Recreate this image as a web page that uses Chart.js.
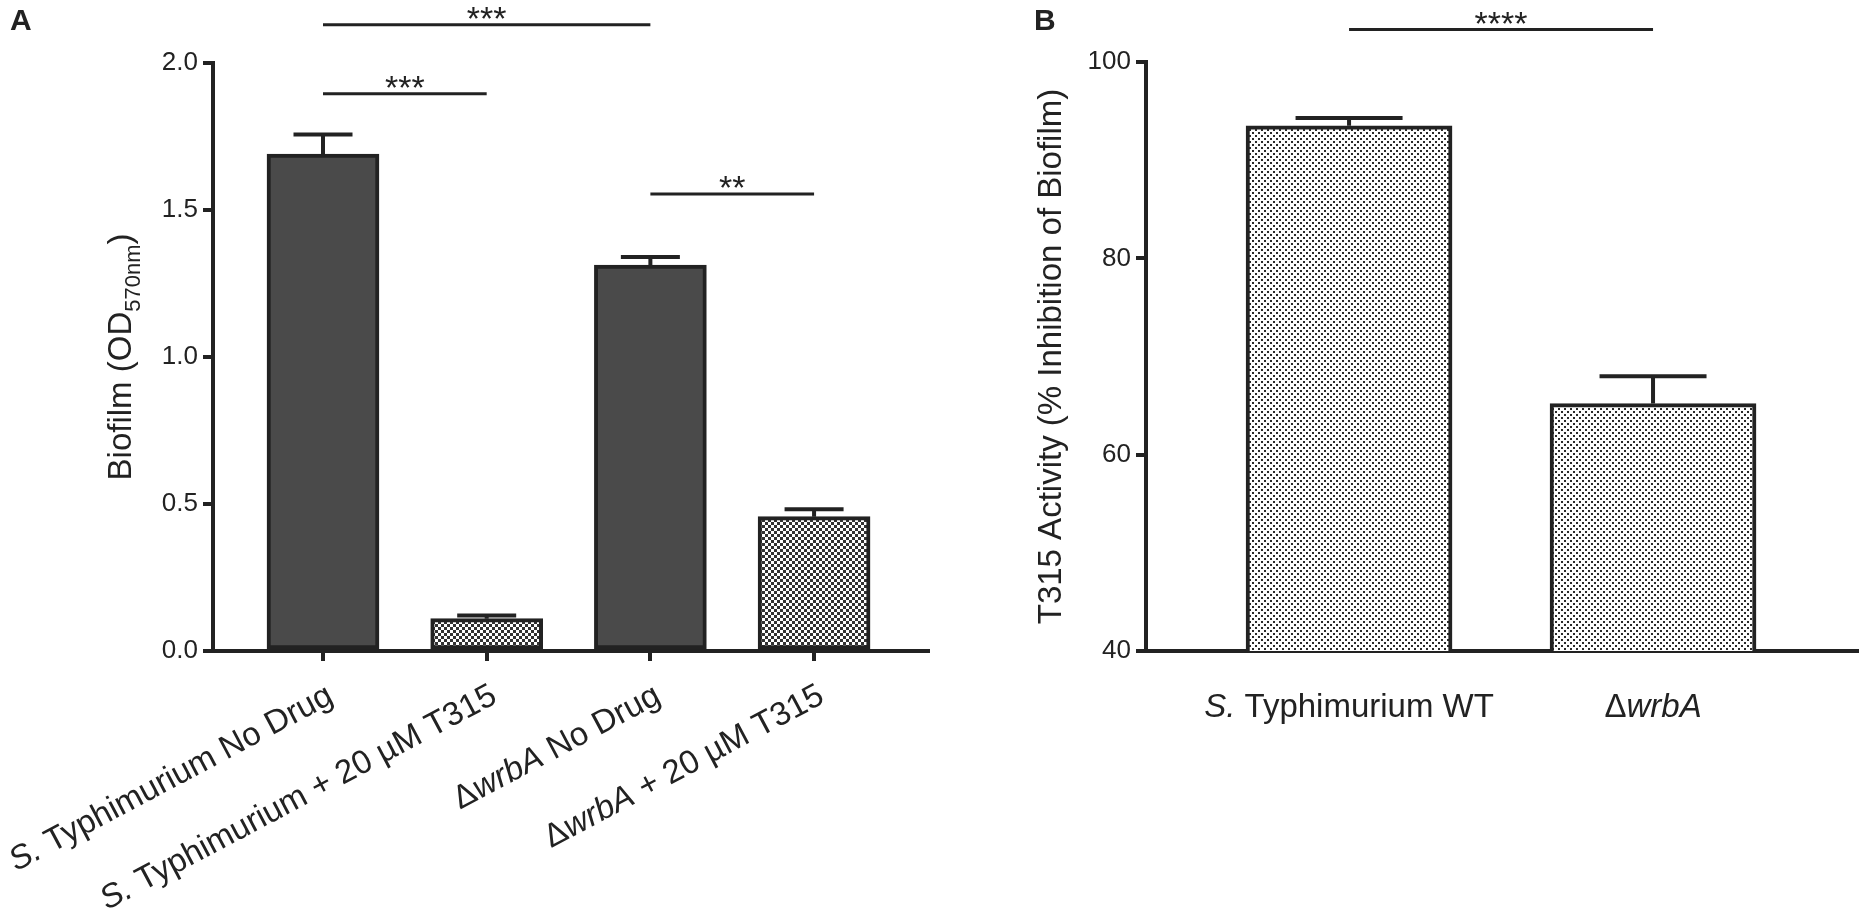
<!DOCTYPE html>
<html>
<head>
<meta charset="utf-8">
<script src="https://cdn.jsdelivr.net/npm/chart.js@4.4.1/dist/chart.umd.min.js"></script>
<style>
  html, body { margin: 0; padding: 0; background: #fff; }
  canvas { position: absolute; top: 0; }
</style>
</head>
<body>
<canvas id="chartA" width="1000" height="923" style="left:0"></canvas>
<canvas id="chartB" width="860" height="923" style="left:1000px"></canvas>
<script>
// panel A - biofilm
const categoriesA = ["S. Typhimurium No Drug", "S. Typhimurium + 20 µM T315", "ΔwrbA No Drug", "ΔwrbA + 20 µM T315"];
const biofilmMean = [1.69, 0.11, 1.313, 0.457];
const biofilmSem = [0.067, 0.011, 0.027, 0.025];
const yTicksA = [0, 0.5, 1.0, 1.5, 2.0];
// [from bar, to bar, level, stars]
const signifA = [[0, 2, 2.13, "***"], [0, 1, 1.895, "***"], [2, 3, 1.554, "**"]];

// panel B - T315 activity
const categoriesB = ["S. Typhimurium WT", "ΔwrbA"];
const activityMean = [93.5, 65.2];
const activitySem = [0.8, 2.8];
const yTicksB = [40, 60, 80, 100];
const signifB = [[0, 1, 103.3, "****"]];

const italicParts = ["S.", "wrbA"];

const INK = "#222";
const FAMILY = "'Liberation Sans', Arial, sans-serif";

function makePattern(bg, fg, cells) {
  const c = document.createElement("canvas");
  c.width = 6; c.height = 6;
  const g = c.getContext("2d");
  g.fillStyle = bg; g.fillRect(0, 0, 6, 6);
  g.fillStyle = fg;
  cells.forEach(r => g.fillRect(r[0], r[1], r[2], r[3]));
  return g.createPattern(c, "repeat");
}
const checker = makePattern("#333", "#fff", [[0, 0, 3, 3], [3, 3, 3, 3]]);
const dots = makePattern("#fff", "#2a2a2a", [[0, 0, 2, 2], [3, 3, 2, 2]]);

function splitItalic(label) {
  const re = new RegExp("(" + italicParts.map(s => s.replace(/[.*+?^${}()|[\]\\]/g, "\\$&")).join("|") + ")");
  return label.split(re).filter(s => s).map(s => ({ text: s, italic: italicParts.includes(s) }));
}

function drawParts(ctx, parts, x, y, align) {
  const fonts = parts.map(p => (p.italic ? "italic " : "") + (p.size || 33) + "px " + FAMILY);
  const widths = parts.map((p, i) => { ctx.font = fonts[i]; return ctx.measureText(p.text).width; });
  const total = widths.reduce((a, b) => a + b, 0);
  let cx = align === "right" ? x - total : align === "center" ? x - total / 2 : x;
  ctx.textAlign = "left";
  ctx.textBaseline = "alphabetic";
  parts.forEach((p, i) => {
    ctx.font = fonts[i];
    ctx.fillText(p.text, cx, y + (p.dy || 0));
    cx += widths[i];
  });
}

function panelPlugin(p) {
  return {
    id: "panel" + p.letter,
    afterDatasetsDraw(chart) {
      const ctx = chart.ctx;
      const y = chart.scales.y;
      const meta = chart.getDatasetMeta(0);
      ctx.save();
      ctx.strokeStyle = INK;
      ctx.lineWidth = 4;
      meta.data.forEach((bar, i) => {
        const top = y.getPixelForValue(p.values[i] + p.errors[i]);
        ctx.beginPath();
        ctx.moveTo(bar.x, bar.y);
        ctx.lineTo(bar.x, top);
        ctx.moveTo(bar.x - p.cap / 2, top);
        ctx.lineTo(bar.x + p.cap / 2, top);
        ctx.stroke();
      });
      ctx.restore();
    },
    afterDraw(chart) {
      const ctx = chart.ctx;
      const x = chart.scales.x;
      const y = chart.scales.y;
      const area = chart.chartArea;
      ctx.save();
      ctx.fillStyle = INK;
      ctx.strokeStyle = INK;

      // significance brackets
      ctx.lineWidth = 3;
      p.signif.forEach(s => {
        const x1 = x.getPixelForValue(s[0]);
        const x2 = x.getPixelForValue(s[1]);
        const ly = y.getPixelForValue(s[2]);
        ctx.beginPath();
        ctx.moveTo(x1, ly);
        ctx.lineTo(x2, ly);
        ctx.stroke();
        ctx.font = "34px " + FAMILY;
        ctx.textAlign = "center";
        ctx.textBaseline = "alphabetic";
        ctx.fillText(s[3], (x1 + x2) / 2, ly + 5);
      });

      // panel letter
      ctx.font = "bold 30px " + FAMILY;
      ctx.textAlign = "left";
      ctx.fillText(p.letter, p.letterX, 30);

      // y axis title
      ctx.save();
      ctx.translate(p.titleX, (area.top + area.bottom) / 2);
      ctx.rotate(-Math.PI / 2);
      drawParts(ctx, p.title, 0, 0, "center");
      ctx.restore();

      // category labels
      p.categories.forEach((c, i) => {
        const px = x.getPixelForValue(i);
        const parts = splitItalic(c);
        if (p.rotate) {
          ctx.save();
          ctx.translate(px + 12, area.bottom + 51);
          ctx.rotate(-p.rotate * Math.PI / 180);
          drawParts(ctx, parts, 0, 0, "right");
          ctx.restore();
        } else {
          drawParts(ctx, parts, px, area.bottom + 66, "center");
        }
      });
      ctx.restore();
    }
  };
}

function makePanel(id, p) {
  const ctx = document.getElementById(id).getContext("2d");
  new Chart(ctx, {
    type: "bar",
    data: {
      datasets: [{
        data: p.categories.map((c, i) => ({ x: i, y: p.values[i] })),
        backgroundColor: p.fills,
        borderColor: INK,
        borderWidth: 4,
        borderSkipped: false,
        barThickness: p.barWidth
      }]
    },
    options: {
      responsive: false,
      animation: false,
      devicePixelRatio: 1,
      layout: { padding: { top: p.top, right: p.right, left: 0, bottom: 0 } },
      plugins: { legend: { display: false }, tooltip: { enabled: false } },
      scales: {
        x: {
          type: "linear",
          offset: false,
          min: p.xMin,
          max: p.xMax,
          afterBuildTicks: s => { s.ticks = p.categories.map((c, i) => ({ value: i })); },
          afterFit: s => { s.height = p.xHeight; },
          ticks: { display: false },
          grid: { offset: false, drawOnChartArea: false, drawTicks: p.xTicks, tickLength: 10, tickWidth: 4, lineWidth: 4, color: INK },
          border: { color: INK, width: 4 }
        },
        y: {
          min: p.yTicks[0],
          max: p.yTicks[p.yTicks.length - 1],
          afterBuildTicks: s => { s.ticks = p.yTicks.map(v => ({ value: v })); },
          afterFit: s => { s.width = p.yWidth; },
          ticks: {
            font: { family: FAMILY, size: 26 },
            color: INK,
            padding: 5,
            callback: v => v.toFixed(p.decimals)
          },
          grid: { drawOnChartArea: false, tickLength: 10, tickWidth: 4, lineWidth: 4, color: INK },
          border: { color: INK, width: 4 }
        }
      }
    },
    plugins: [panelPlugin(p)]
  });
}

makePanel("chartA", {
  letter: "A", letterX: 10,
  categories: categoriesA, values: biofilmMean, errors: biofilmSem,
  yTicks: yTicksA, decimals: 1, signif: signifA,
  fills: ["#4a4a4a", checker, "#4a4a4a", checker],
  barWidth: 112, cap: 59,
  xMin: -0.672, xMax: 3.696, xTicks: true, rotate: 28,
  top: 63, right: 72, yWidth: 213, xHeight: 272,
  titleX: 131,
  title: [{ text: "Biofilm (OD" }, { text: "570nm", size: 22, dy: 9 }, { text: ")" }]
});

makePanel("chartB", {
  letter: "B", letterX: 34,
  categories: categoriesB, values: activityMean, errors: activitySem,
  yTicks: yTicksB, decimals: 0, signif: signifB,
  fills: [dots, dots],
  barWidth: 206, cap: 107,
  xMin: -0.668, xMax: 1.671, xTicks: false, rotate: 0,
  top: 62, right: 3, yWidth: 146, xHeight: 272,
  titleX: 61,
  title: [{ text: "T315 Activity (% Inhibition of Biofilm)" }]
});
</script>
</body>
</html>
